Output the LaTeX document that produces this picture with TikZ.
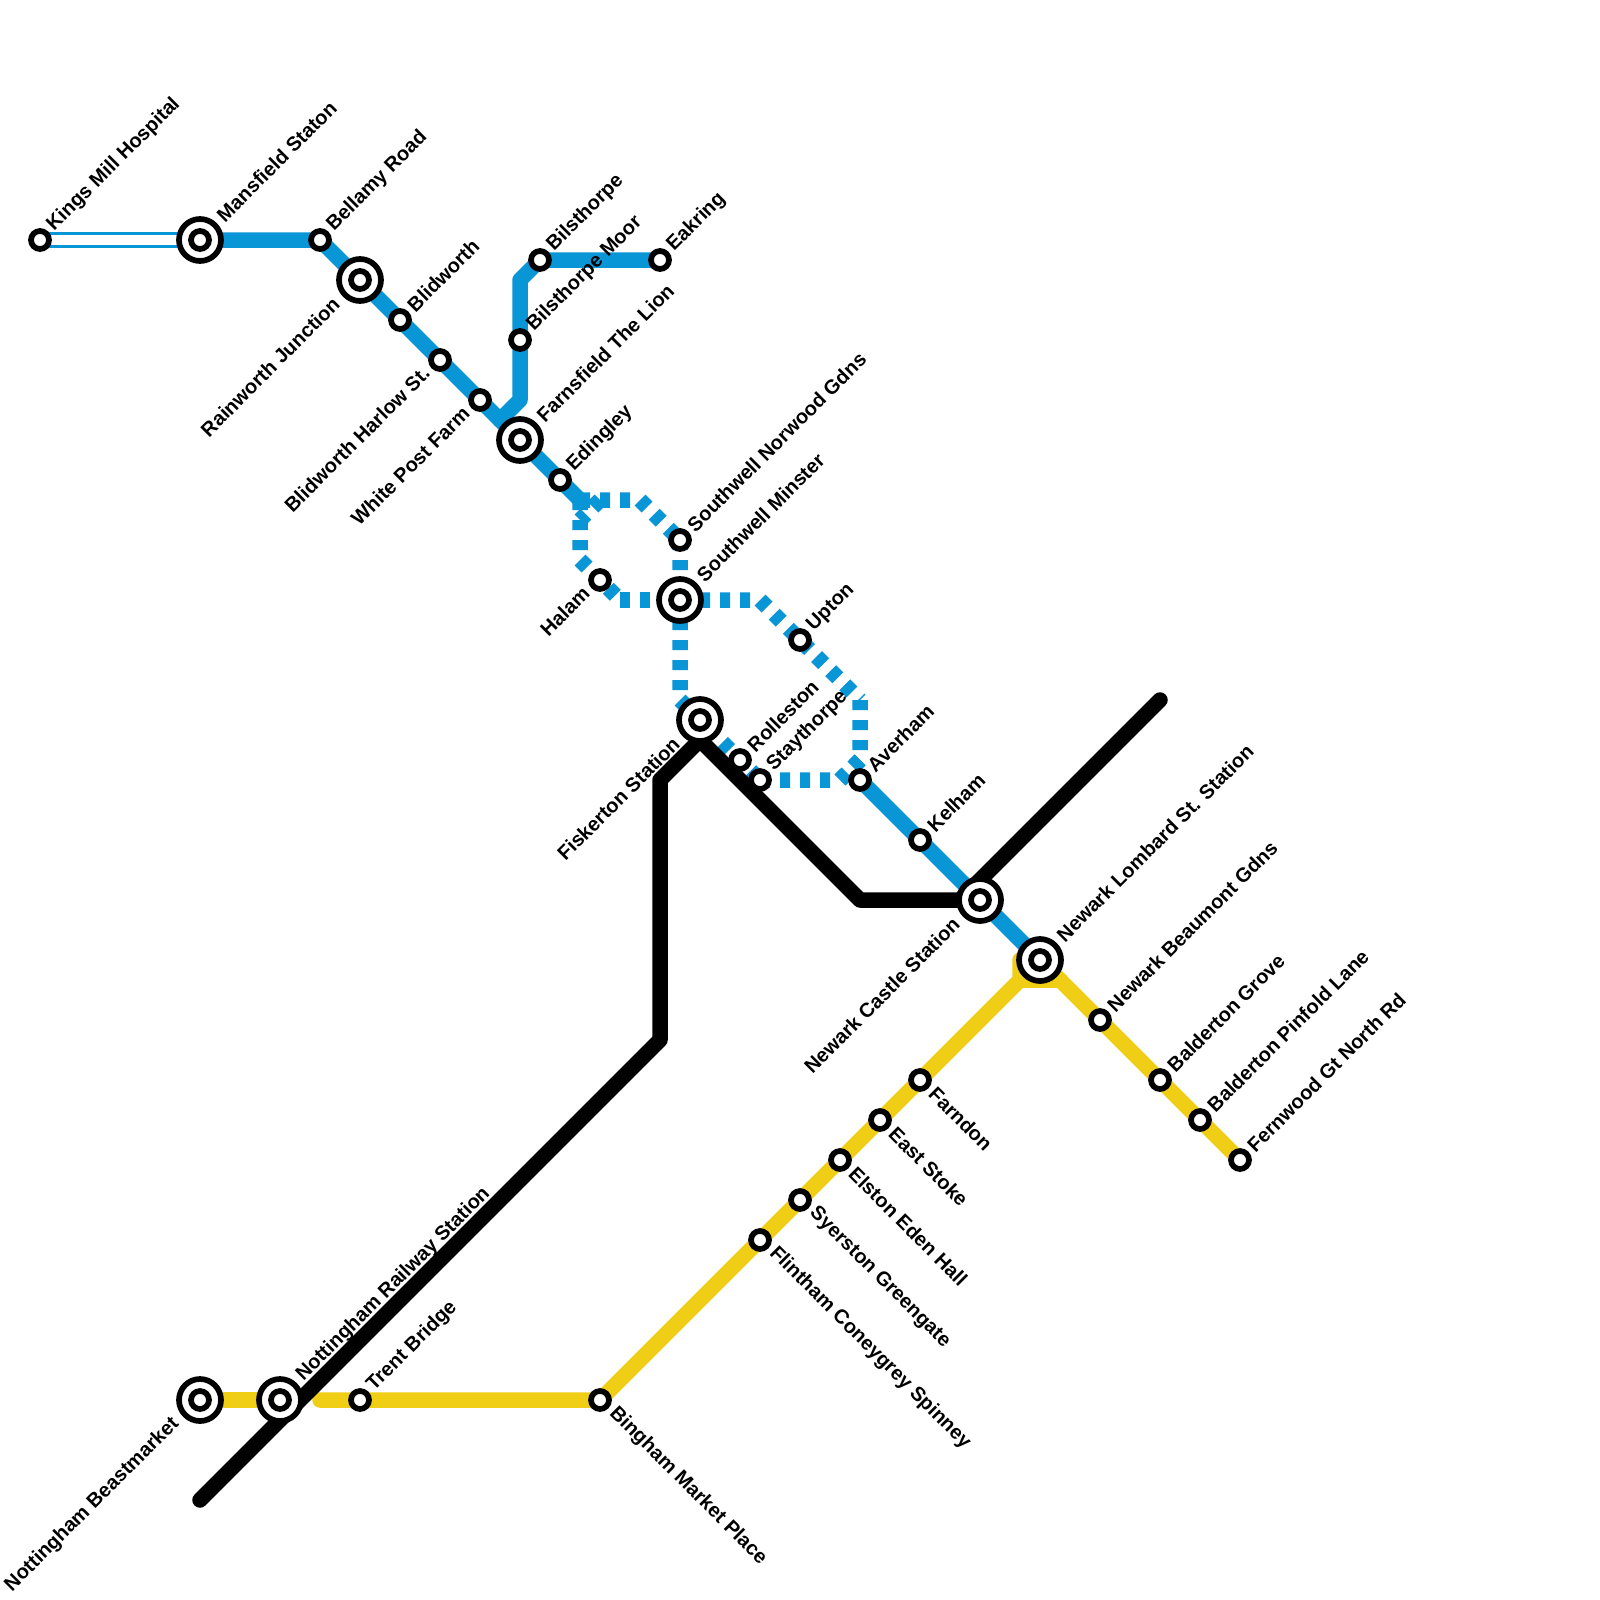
\documentclass[tikz,border=0pt]{standalone}
\usepackage{fontspec}
\setmainfont{Liberation Sans}
\definecolor{lineblue}{HTML}{0896D7}
\definecolor{lineyellow}{HTML}{F0CE15}
\tikzset{
  solidline/.style={line width=15.5pt,line cap=round,line join=round},
  dashline/.style={line width=15.5pt,line cap=butt,line join=miter,dash pattern=on 10pt off 10pt,color=lineblue},
  smallst/.style={circle,draw=black,fill=white,line width=5.7pt,minimum size=18pt,inner sep=0pt,outer sep=0pt},
  bigst/.style={circle,draw=black,fill=white,line width=5.7pt,minimum size=42pt,inner sep=0pt,outer sep=0pt},
  lab/.style={font=\fontsize{20}{20}\selectfont\bfseries,inner sep=0pt,outer sep=0pt,text=black},
  ur/.style={lab,rotate=45,anchor=west},
  ll/.style={lab,rotate=45,anchor=east},
  lr/.style={lab,rotate=-45,anchor=west}
}
\begin{document}
\begin{tikzpicture}[x=1pt,y=-1pt]
\useasboundingbox (0,0) rectangle (1600,1600);
\fill[white] (0,0) rectangle (1600,1600);
% station positions
\coordinate (kings) at (40,240);
\coordinate (mansfield) at (200,240);
\coordinate (bellamy) at (320,240);
\coordinate (rainworth) at (360,280);
\coordinate (blidworth) at (400,320);
\coordinate (harlow) at (440,360);
\coordinate (whitepost) at (480,400);
\coordinate (farnsfield) at (520,440);
\coordinate (edingley) at (560,480);
\coordinate (bmoor) at (520,340);
\coordinate (bilsthorpe) at (540,260);
\coordinate (eakring) at (660,260);
\coordinate (halam) at (600,580);
\coordinate (norwood) at (680,540);
\coordinate (minster) at (680,600);
\coordinate (fiskerton) at (700,720);
\coordinate (rolleston) at (740,760);
\coordinate (staythorpe) at (760,780);
\coordinate (upton) at (800,640);
\coordinate (averham) at (860,780);
\coordinate (kelham) at (920,840);
\coordinate (castle) at (980,900);
\coordinate (lombard) at (1040,960);
\coordinate (beaumont) at (1100,1020);
\coordinate (grove) at (1160,1080);
\coordinate (pinfold) at (1200,1120);
\coordinate (fernwood) at (1240,1160);
\coordinate (beastmarket) at (200,1400);
\coordinate (railway) at (280,1400);
\coordinate (trent) at (360,1400);
\coordinate (bingham) at (600,1400);
\coordinate (flintham) at (760,1240);
\coordinate (syerston) at (800,1200);
\coordinate (elston) at (840,1160);
\coordinate (eaststoke) at (880,1120);
\coordinate (farndon) at (920,1080);
% way points
\coordinate (w1) at (500,420);
\coordinate (w2) at (520,400);
\coordinate (w3) at (520,280);
\coordinate (d0) at (580,500);
\coordinate (d1) at (640,500);
\coordinate (d2) at (600,500);
\coordinate (d3) at (580,520);
\coordinate (d4) at (580,560);
\coordinate (d5) at (620,600);
\coordinate (d6) at (680,700);
\coordinate (d7) at (760,600);
\coordinate (d8) at (860,700);
\coordinate (d9) at (860,760);
\coordinate (d10) at (840,780);
\coordinate (y0) at (320,1400);
\coordinate (y1) at (1020,980);
\coordinate (y2) at (1020,960);
\coordinate (y3) at (1060,980);
\coordinate (k0) at (200,1500);
\coordinate (k1) at (660,1040);
\coordinate (k2) at (660,780);
\coordinate (k3) at (700,740);
\coordinate (k4) at (860,900);
\coordinate (k5) at (1160,700);
\coordinate (k6) at (960,900);
% yellow
\draw[solidline,lineyellow] (beastmarket) -- (railway);
\draw[solidline,lineyellow] (y0) -- (bingham) -- (y1) -- (y2) -- (lombard) -- (y3) -- (fernwood);
\draw[solidline,lineyellow] (y1) -- (y3);
% blue hollow
\draw[line width=15.5pt,lineblue] (kings) -- (mansfield);
\draw[line width=10pt,white] (kings) -- (mansfield);
% blue solid
\draw[solidline,lineblue] (mansfield) -- (bellamy) -- (d0);
\draw[solidline,lineblue] (w1) -- (w2) -- (w3) -- (bilsthorpe) -- (eakring);
\draw[solidline,lineblue] (averham) -- (lombard);
% blue dashed
\draw[dashline] (d0) -- (d1) -- (norwood);
\draw[dashline] (d0) -- (d4) -- (d5);
\draw[dashline] (d2) -- (d3);
\draw[dashline] (d5) -- (minster);
\draw[dashline] (minster) -- (d7) -- (d8);
\draw[dashline] (norwood) -- (d6) -- (staythorpe);
\draw[dashline] (staythorpe) -- (d10) -- (d9);
\draw[dashline] (d8) -- (d9) -- (d10);
% black
\draw[solidline,black] (k0) -- (k1) -- (k2) -- (k3) -- (k4) -- (k6) -- (k5);
% stations
\node[smallst] (Skings) at (kings) {};
\node[bigst] (Bmansfield) at (mansfield) {};
\node[smallst] (Smansfield) at (mansfield) {};
\node[smallst] (Sbellamy) at (bellamy) {};
\node[bigst] (Brainworth) at (rainworth) {};
\node[smallst] (Srainworth) at (rainworth) {};
\node[smallst] (Sblidworth) at (blidworth) {};
\node[smallst] (Sharlow) at (harlow) {};
\node[smallst] (Swhitepost) at (whitepost) {};
\node[bigst] (Bfarnsfield) at (farnsfield) {};
\node[smallst] (Sfarnsfield) at (farnsfield) {};
\node[smallst] (Sedingley) at (edingley) {};
\node[smallst] (Sbmoor) at (bmoor) {};
\node[smallst] (Sbilsthorpe) at (bilsthorpe) {};
\node[smallst] (Seakring) at (eakring) {};
\node[smallst] (Shalam) at (halam) {};
\node[smallst] (Snorwood) at (norwood) {};
\node[bigst] (Bminster) at (minster) {};
\node[smallst] (Sminster) at (minster) {};
\node[bigst] (Bfiskerton) at (fiskerton) {};
\node[smallst] (Sfiskerton) at (fiskerton) {};
\node[smallst] (Srolleston) at (rolleston) {};
\node[smallst] (Sstaythorpe) at (staythorpe) {};
\node[smallst] (Supton) at (upton) {};
\node[smallst] (Saverham) at (averham) {};
\node[smallst] (Skelham) at (kelham) {};
\node[bigst] (Bcastle) at (castle) {};
\node[smallst] (Scastle) at (castle) {};
\node[bigst] (Blombard) at (lombard) {};
\node[smallst] (Slombard) at (lombard) {};
\node[smallst] (Sbeaumont) at (beaumont) {};
\node[smallst] (Sgrove) at (grove) {};
\node[smallst] (Spinfold) at (pinfold) {};
\node[smallst] (Sfernwood) at (fernwood) {};
\node[bigst] (Bbeastmarket) at (beastmarket) {};
\node[smallst] (Sbeastmarket) at (beastmarket) {};
\node[bigst] (Brailway) at (railway) {};
\node[smallst] (Srailway) at (railway) {};
\node[smallst] (Strent) at (trent) {};
\node[smallst] (Sbingham) at (bingham) {};
\node[smallst] (Sflintham) at (flintham) {};
\node[smallst] (Ssyerston) at (syerston) {};
\node[smallst] (Selston) at (elston) {};
\node[smallst] (Seaststoke) at (eaststoke) {};
\node[smallst] (Sfarndon) at (farndon) {};
% labels
\node[ur] (Lkings) at ([shift={(10.5,-12)}]kings) {Kings Mill Hospital};
\node[ur] (Lmansfield) at ([shift={(20,-22)}]mansfield) {Mansfield Staton};
\node[ur] (Lbellamy) at ([shift={(10.5,-12)}]bellamy) {Bellamy Road};
\node[ur] (Lblidworth) at ([shift={(10.5,-12)}]blidworth) {Blidworth};
\node[ur] (Lbilsthorpe) at ([shift={(10.5,-12)}]bilsthorpe) {Bilsthorpe};
\node[ur] (Lbmoor) at ([shift={(10.5,-12)}]bmoor) {Bilsthorpe Moor};
\node[ur] (Leakring) at ([shift={(10.5,-12)}]eakring) {Eakring};
\node[ur] (Lfarnsfield) at ([shift={(20,-22)}]farnsfield) {Farnsfield The Lion};
\node[ur] (Ledingley) at ([shift={(10.5,-12)}]edingley) {Edingley};
\node[ur] (Lnorwood) at ([shift={(10.5,-12)}]norwood) {Southwell Norwood Gdns};
\node[ur] (Lminster) at ([shift={(20,-22)}]minster) {Southwell Minster};
\node[ur] (Lupton) at ([shift={(10.5,-12)}]upton) {Upton};
\node[ur] (Lrolleston) at ([shift={(10.5,-12)}]rolleston) {Rolleston};
\node[ur] (Lstaythorpe) at ([shift={(10.5,-12)}]staythorpe) {Staythorpe};
\node[ur] (Laverham) at ([shift={(10.5,-12)}]averham) {Averham};
\node[ur] (Lkelham) at ([shift={(10.5,-12)}]kelham) {Kelham};
\node[ur] (Llombard) at ([shift={(20,-22)}]lombard) {Newark Lombard St. Station};
\node[ur] (Lbeaumont) at ([shift={(10.5,-12)}]beaumont) {Newark Beaumont Gdns};
\node[ur] (Lgrove) at ([shift={(10.5,-12)}]grove) {Balderton Grove};
\node[ur] (Lpinfold) at ([shift={(10.5,-12)}]pinfold) {Balderton Pinfold Lane};
\node[ur] (Lfernwood) at ([shift={(10.5,-12)}]fernwood) {Fernwood Gt North Rd};
\node[ur] (Lrailway) at ([shift={(20,-22)}]railway) {Nottingham Railway Station};
\node[ur] (Ltrent) at ([shift={(10.5,-12)}]trent) {Trent Bridge};
\node[ll] (Lrainworth) at ([shift={(-24,21)}]rainworth) {Rainworth Junction};
\node[ll] (Lharlow) at ([shift={(-14,10)}]harlow) {Blidworth Harlow St.};
\node[ll] (Lwhitepost) at ([shift={(-14,10)}]whitepost) {White Post Farm};
\node[ll] (Lhalam) at ([shift={(-14,10)}]halam) {Halam};
\node[ll] (Lfiskerton) at ([shift={(-24,21)}]fiskerton) {Fiskerton Station};
\node[ll] (Lcastle) at ([shift={(-24,21)}]castle) {Newark Castle Station};
\node[ll] (Lbeastmarket) at ([shift={(-24,21)}]beastmarket) {Nottingham Beastmarket};
\node[lr] (Lfarndon) at ([shift={(12.5,10.5)}]farndon) {Farndon};
\node[lr] (Leaststoke) at ([shift={(12.5,10.5)}]eaststoke) {East Stoke};
\node[lr] (Lelston) at ([shift={(12.5,10.5)}]elston) {Elston Eden Hall};
\node[lr] (Lsyerston) at ([shift={(12.5,10.5)}]syerston) {Syerston Greengate};
\node[lr] (Lflintham) at ([shift={(12.5,10.5)}]flintham) {Flintham Coneygrey Spinney};
\node[lr] (Lbingham) at ([shift={(12.5,10.5)}]bingham) {Bingham Market Place};
\end{tikzpicture}
\end{document}
